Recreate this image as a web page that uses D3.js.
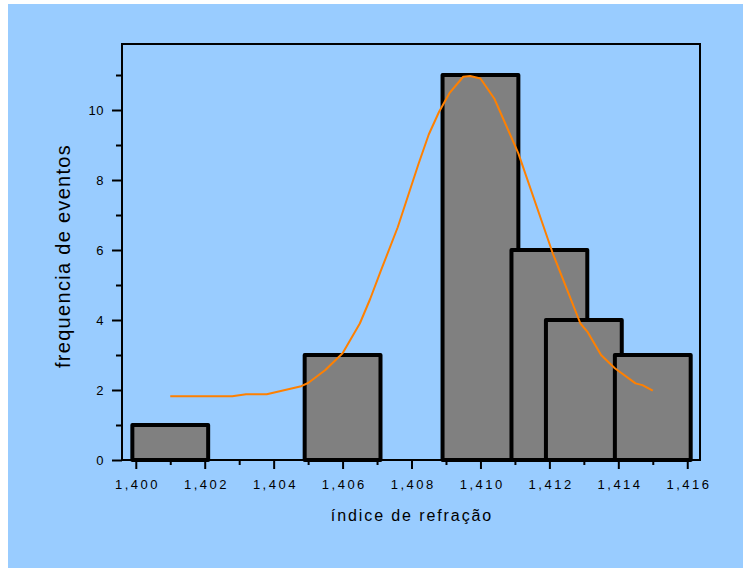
<!DOCTYPE html>
<html>
<head>
<meta charset="utf-8">
<script src="https://cdn.jsdelivr.net/npm/d3@7"></script>
<style>
  html, body { margin: 0; padding: 0; background: #ffffff; }
  svg { display: block; }
  text { font-family: "Liberation Sans", Arial, sans-serif; fill: #000; }
</style>
</head>
<body>
<svg id="chart" width="743" height="568"></svg>
<script>
// Histogram of refractive index measurements with a fitted curve
const binCenters = [1.401, 1.406, 1.410, 1.412, 1.413, 1.415];
const binCounts  = [1, 3, 11, 6, 4, 3];
const binWidth   = 0.0022;

// Fitted distribution curve (index, frequency)
const curveX = [1.4010, 1.4028, 1.4032, 1.4038, 1.4048, 1.4050, 1.4055, 1.4060, 1.4065, 1.4068,
                1.4071, 1.4076, 1.4079, 1.4082, 1.4085, 1.4088, 1.4091, 1.4095, 1.4097, 1.4100,
                1.4104, 1.4111, 1.4121, 1.4129, 1.4131, 1.4135, 1.4139, 1.4145, 1.4147, 1.4150];
const curveY = [1.82, 1.82, 1.88, 1.88, 2.11, 2.20, 2.57, 3.05, 3.90, 4.60,
                5.38, 6.65, 7.55, 8.45, 9.30, 9.95, 10.48, 10.95, 10.97, 10.90,
                10.33, 8.76, 5.90, 3.90, 3.67, 3.00, 2.62, 2.19, 2.14, 1.98];

const xMajorTicks = [1.400, 1.402, 1.404, 1.406, 1.408, 1.410, 1.412, 1.414, 1.416];
const xMinorTicks = [1.401, 1.403, 1.405, 1.407, 1.409, 1.411, 1.413, 1.415];
const yMajorTicks = [0, 2, 4, 6, 8, 10];
const yMinorTicks = [1, 3, 5, 7, 9, 11];

const xTitle = "índice de refração";
const yTitle = "frequencia de eventos";

const svg = d3.select("#chart");
const plotLeft = 122, plotRight = 700, plotTop = 44, plotBottom = 460;

const x = d3.scaleLinear().domain([1.3996, 1.41637]).range([plotLeft, plotRight]);
const y = d3.scaleLinear().domain([0, 11.886]).range([plotBottom, plotTop]);

// page background
svg.append("rect")
  .attr("x", 8).attr("y", 4).attr("width", 735).attr("height", 564)
  .attr("fill", "#99ccff");

// bars, drawn left to right so later bins overlap earlier ones
const bars = binCenters.map((c, i) => ({ c, n: binCounts[i] }));
svg.append("g").selectAll("rect").data(bars).join("rect")
  .attr("x", d => x(d.c - binWidth / 2))
  .attr("width", d => x(d.c + binWidth / 2) - x(d.c - binWidth / 2))
  .attr("y", d => y(d.n))
  .attr("height", d => y(0) - y(d.n))
  .attr("fill", "#808080")
  .attr("stroke", "#000")
  .attr("stroke-width", 4)
  .attr("stroke-linejoin", "round");

// fitted curve
const pts = curveX.map((v, i) => [v, curveY[i]]);
svg.append("path")
  .datum(pts)
  .attr("fill", "none")
  .attr("stroke", "#ff8000")
  .attr("stroke-width", 2)
  .attr("stroke-linejoin", "round")
  .attr("d", d3.line().x(d => x(d[0])).y(d => y(d[1])));

// frame
svg.append("rect")
  .attr("x", plotLeft).attr("y", plotTop)
  .attr("width", plotRight - plotLeft).attr("height", plotBottom - plotTop)
  .attr("fill", "none").attr("stroke", "#000").attr("stroke-width", 2);

// x axis
const xAxis = svg.append("g").attr("transform", `translate(0,${plotBottom})`)
  .call(d3.axisBottom(x).tickValues(xMajorTicks).tickSize(9).tickSizeOuter(0)
    .tickFormat(d => d3.format(".3f")(d).replace(".", ",")));
xAxis.select(".domain").remove();
xAxis.selectAll(".tick line").attr("stroke", "#000").attr("stroke-width", 2);
xAxis.selectAll(".tick text")
  .attr("y", 20).attr("dy", "0.71em").attr("dx", 1.25)
  .style("font-size", "13px").style("letter-spacing", "2.5px")
  .style("font-family", "Liberation Sans, Arial, sans-serif");

const xMinor = svg.append("g").attr("transform", `translate(0,${plotBottom})`)
  .call(d3.axisBottom(x).tickValues(xMinorTicks).tickSize(5).tickFormat(""));
xMinor.select(".domain").remove();
xMinor.selectAll(".tick line").attr("stroke", "#000").attr("stroke-width", 2);

// y axis
const yAxis = svg.append("g").attr("transform", `translate(${plotLeft},0)`)
  .call(d3.axisLeft(y).tickValues(yMajorTicks).tickSize(10).tickSizeOuter(0));
yAxis.select(".domain").remove();
yAxis.selectAll(".tick line").attr("stroke", "#000").attr("stroke-width", 2);
yAxis.selectAll(".tick text")
  .attr("x", -18)
  .style("font-size", "13px").style("letter-spacing", "0.5px")
  .style("font-family", "Liberation Sans, Arial, sans-serif");

const yMinor = svg.append("g").attr("transform", `translate(${plotLeft},0)`)
  .call(d3.axisLeft(y).tickValues(yMinorTicks).tickSize(6).tickFormat(""));
yMinor.select(".domain").remove();
yMinor.selectAll(".tick line").attr("stroke", "#000").attr("stroke-width", 2);

// axis titles
svg.append("text")
  .attr("x", 412).attr("y", 521)
  .attr("text-anchor", "middle")
  .style("font-size", "16px").style("letter-spacing", "1.9px")
  .text(xTitle);

svg.append("text")
  .attr("transform", "translate(70,256) rotate(-90)")
  .attr("text-anchor", "middle")
  .style("font-size", "20px").style("letter-spacing", "1.3px")
  .text(yTitle);
</script>
</body>
</html>
